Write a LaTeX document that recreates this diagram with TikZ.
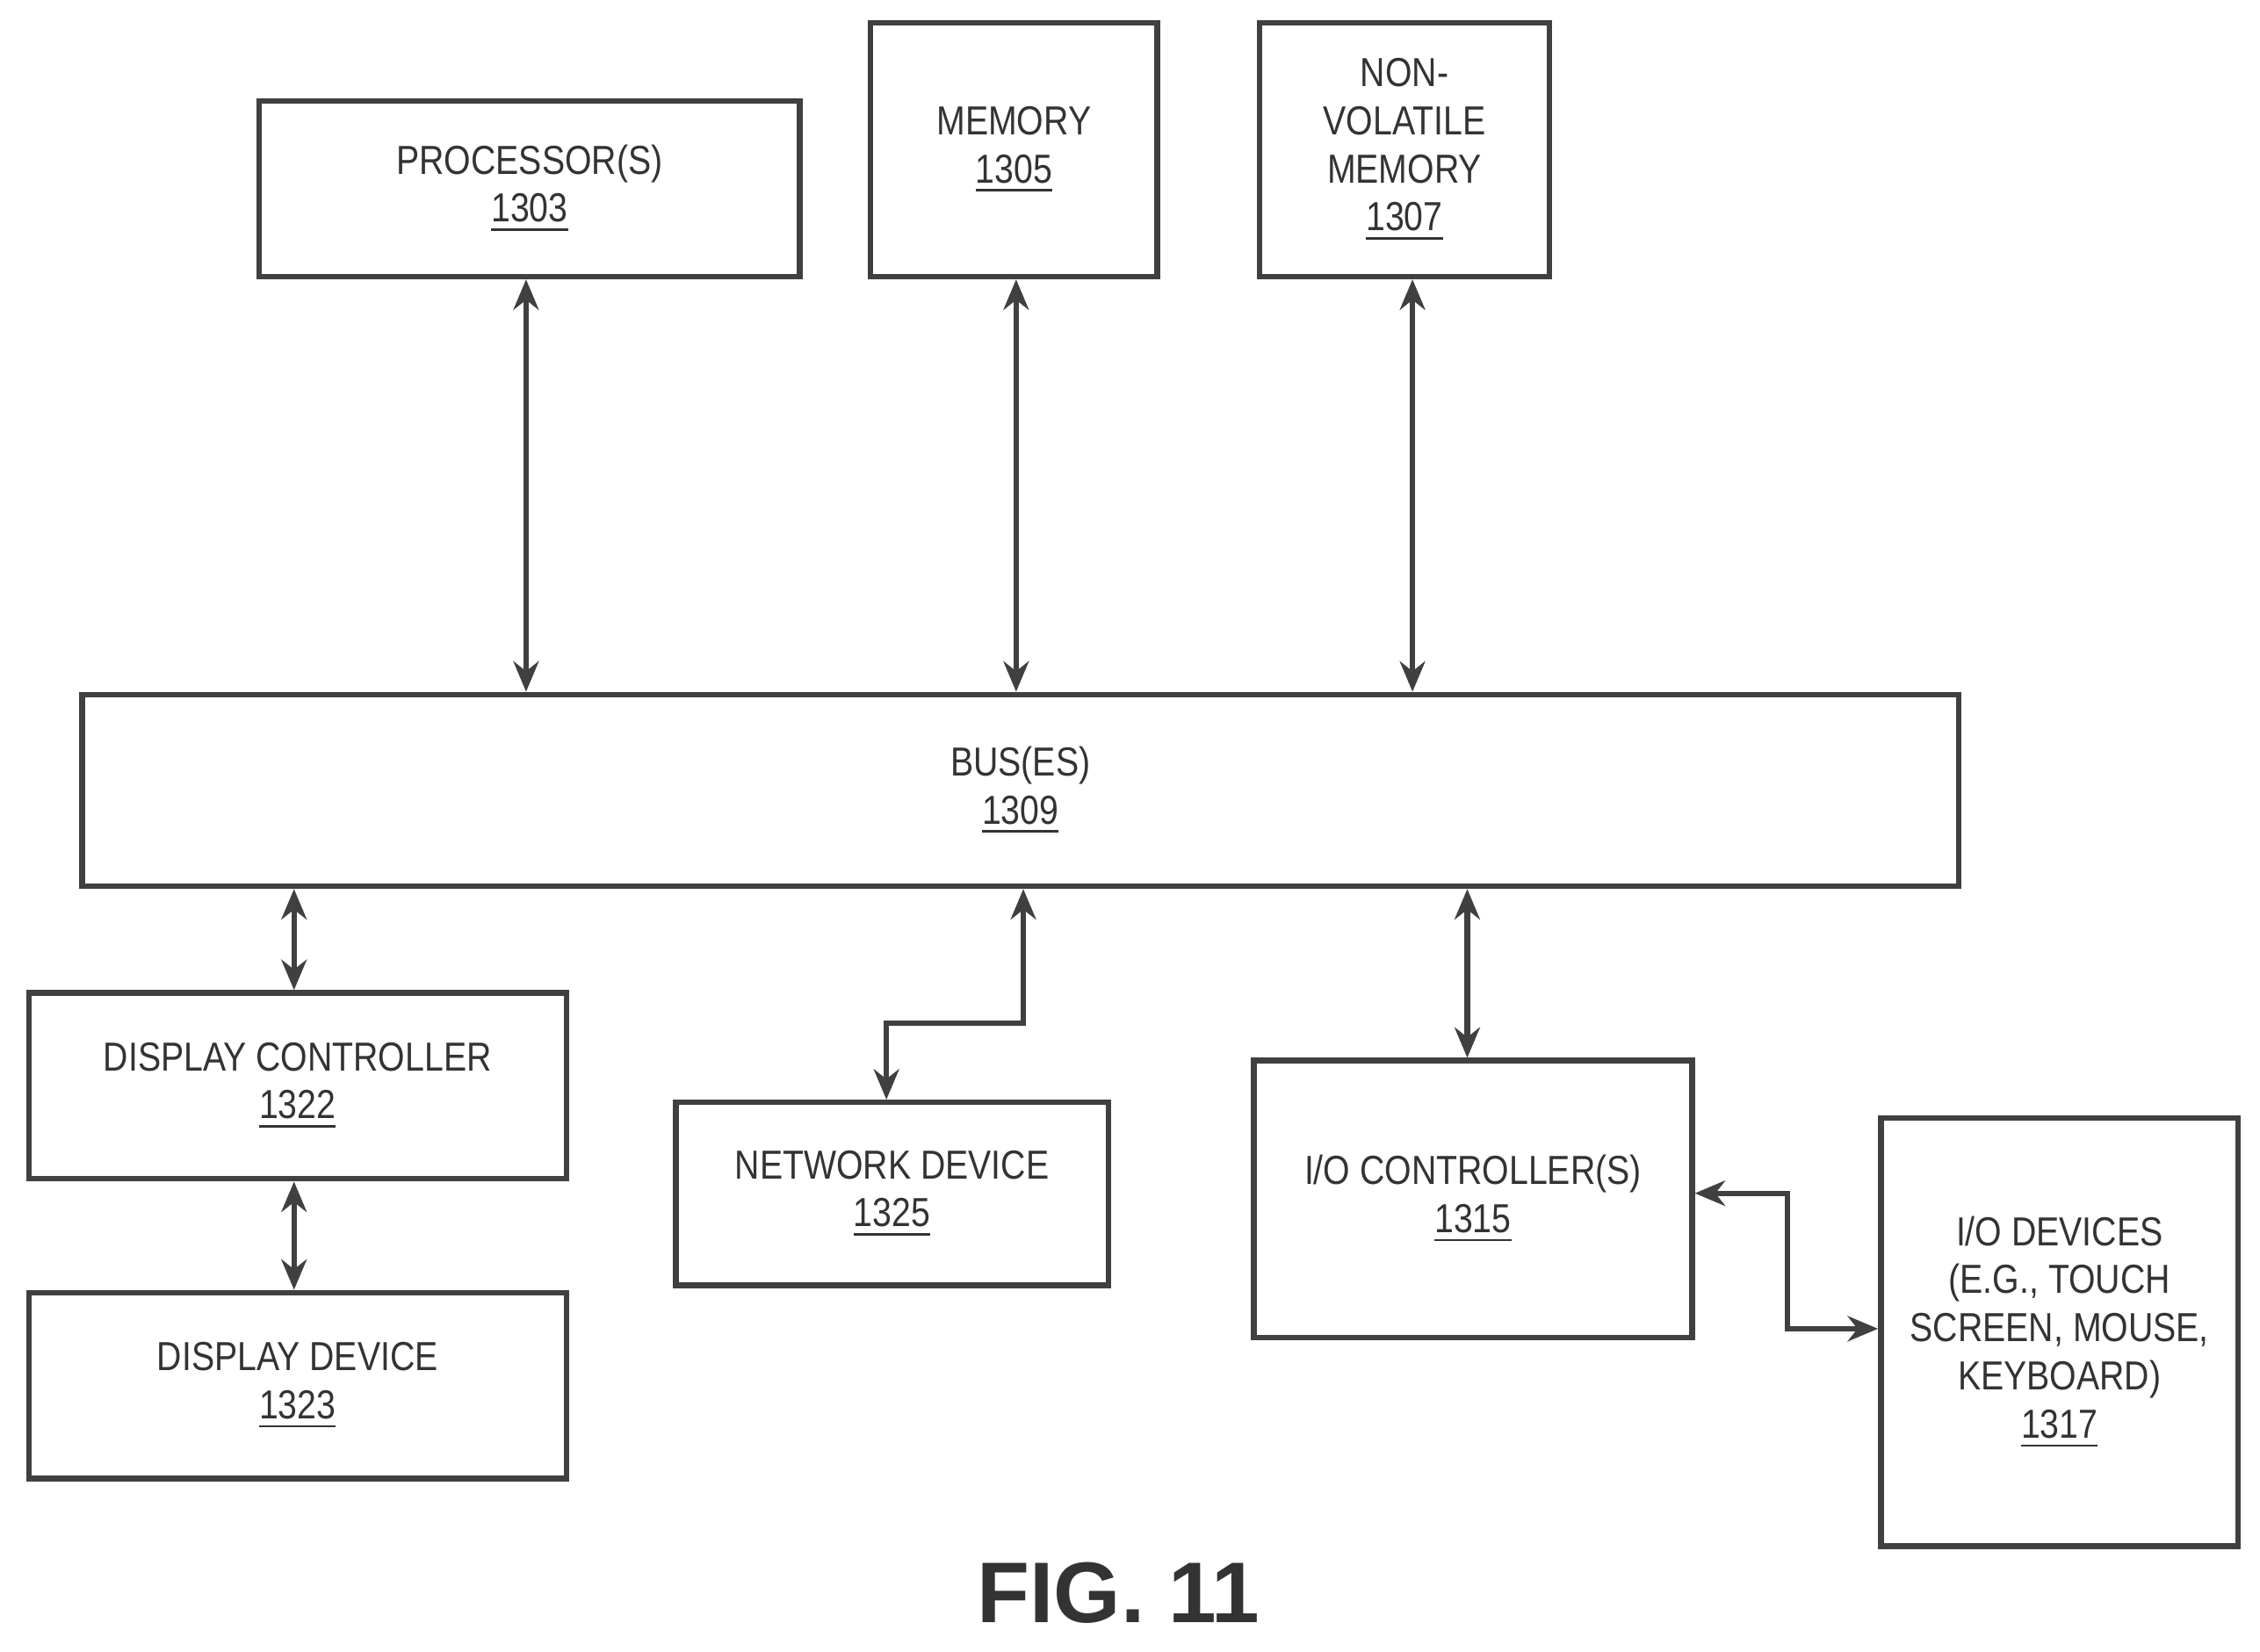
\documentclass[tikz,border=0pt]{standalone}
\usepackage{fontspec}
\setmainfont{Liberation Sans}
\newfontfamily\narrowsans[FakeStretch=0.85]{Liberation Sans}
\usetikzlibrary{arrows.meta}
\begin{document}
\begin{tikzpicture}[x=0.01cm,y=-0.01cm,
  box/.style={draw=black!75,line width=1.1pt,align=center,inner sep=0pt,font=\narrowsans\fontsize{8}{9.5}\selectfont,text=black!80},
  con/.style={draw=black!75,line width=1.1pt,{Stealth[length=6pt,width=5pt]}-{Stealth[length=6pt,width=5pt]}}]
\useasboundingbox (0,0) rectangle (1568,1146);
\newcommand{\bx}[5]{\node[box,minimum width=#4*0.01cm,minimum height=#5*0.01cm,anchor=north west] (#1) at (#2,#3)}
\bx{proc}{178}{68}{375}{122} {PROCESSOR(S)\\\underline{1303}};
\bx{mem}{602}{14}{199}{176} {MEMORY\\\underline{1305}};
\bx{nvm}{872}{14}{201}{176} {NON-\\VOLATILE\\MEMORY\\\underline{1307}};
\bx{bus}{55}{480}{1302}{133} {BUS(ES)\\\underline{1309}};
\bx{dc}{18}{687}{373}{129} {DISPLAY CONTROLLER\\\underline{1322}};
\bx{dd}{18}{895}{373}{129} {DISPLAY DEVICE\\\underline{1323}};
\bx{net}{467}{763}{300}{127} {NETWORK DEVICE\\\underline{1325}};
\bx{ioc}{868}{734}{304}{192} {I/O CONTROLLER(S)\\\underline{1315}};
\bx{iod}{1303}{774}{248}{297} {I/O DEVICES\\(E.G., TOUCH\\SCREEN, MOUSE,\\KEYBOARD)\\\underline{1317}};
\node[font=\bfseries\fontsize{17}{20}\selectfont,text=black!80] (fig) at (776,1105) {FIG. 11};
\draw[con] (proc.south -| 365,0) -- (bus.north -| 365,0);
\draw[con] (mem.south -| 705,0) -- (bus.north -| 705,0);
\draw[con] (nvm.south -| 980,0) -- (bus.north -| 980,0);
\draw[con] (bus.south -| 204,0) -- (dc.north -| 204,0);
\draw[con] (dc.south -| 204,0) -- (dd.north -| 204,0);
\draw[con] (bus.south -| 710,0) -- (710,710) -- (615,710) -- (net.north -| 615,0);
\draw[con] (bus.south -| 1018,0) -- (ioc.north -| 1018,0);
\draw[con] (ioc.east |- 0,828) -- (1240,828) -- (1240,922) -- (iod.west |- 0,922);
\end{tikzpicture}
\end{document}
